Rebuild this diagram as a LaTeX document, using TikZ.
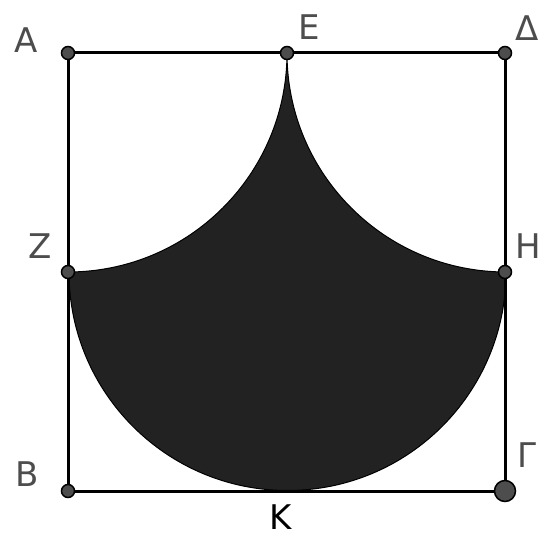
\documentclass[tikz,border=0pt]{standalone}
\usepackage{fontspec}
\setmainfont{DejaVu Sans}
\definecolor{regionc}{HTML}{222222}
\definecolor{dotc}{HTML}{4D4D4D}
\definecolor{labc}{HTML}{4D4D4D}
\begin{document}
\begin{tikzpicture}[x=1pt,y=-1pt,
  pt/.style={circle,draw=black,fill=dotc,line width=1.5pt,inner sep=0pt,minimum size=13pt},
  bigpt/.style={pt,minimum size=21pt},
  lab/.style={text=labc,font=\fontsize{34}{34}\selectfont,inner sep=0pt},
  edge/.style={line width=3pt,black}]
\useasboundingbox (0,0) rectangle (544,537);
\coordinate (cA) at (68,53);
\coordinate (cD) at (505,53);
\coordinate (cB) at (68,491);
\coordinate (cG) at (505,491);
\coordinate (cE) at (287,53);
\coordinate (cZ) at (68,272);
\coordinate (cH) at (505,272);
\coordinate (cK) at (287,491);
% shaded region
\fill[regionc,draw=black,line width=1pt] (cZ) arc[start angle=90,end angle=0,radius=219]
  arc[start angle=180,end angle=90,radius=219]
  arc[start angle=0,end angle=180,radius=218.5] -- cycle;
% square
\draw[edge] (cA) -- (cE) -- (cD) -- (cH) -- (cG) -- (cK) -- (cB) -- (cZ) -- cycle;
% points
\node[pt] (A) at (cA) {};
\node[pt] (E) at (cE) {};
\node[pt] (D) at (cD) {};
\node[pt] (Z) at (cZ) {};
\node[pt] (H) at (cH) {};
\node[pt] (B) at (cB) {};
\node[bigpt] (G) at (cG) {};
% labels
\node[lab] (lA) at (26,40) {Α};
\node[lab] (lE) at (309,27) {Ε};
\node[lab] (lD) at (527,28) {Δ};
\node[lab] (lZ) at (40,246) {Ζ};
\node[lab] (lH) at (528,246) {Η};
\node[lab] (lB) at (27,474) {Β};
\node[lab] (lG) at (527,455) {Γ};
\node[lab,text=black] (lK) at (281,517) {Κ};
\end{tikzpicture}
\end{document}
